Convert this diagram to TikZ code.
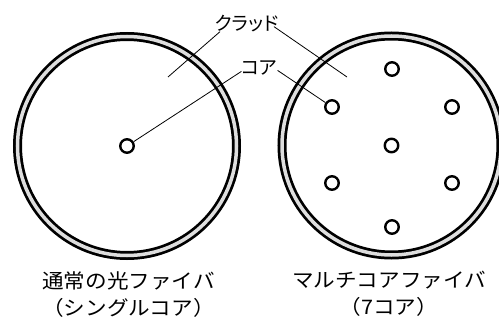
\documentclass[tikz,border=0pt]{standalone}
\usepackage{fontspec}
\newfontfamily\jpfont[FakeStretch=1.08]{Noto Sans CJK JP}
\newfontfamily\jptag[RawFeature=+palt]{Noto Sans CJK JP}
\usetikzlibrary{positioning}
\definecolor{RingGray}{HTML}{DEDEDE}

\begin{document}
\begin{tikzpicture}[
  x=1pt,y=-1pt,
  every node/.style={inner sep=0pt},
  ring/.style={draw=black,line width=9pt},
  ringband/.style={draw=RingGray,line width=3.5pt},
  core/.style={circle,draw=black,line width=2.4pt,minimum size=13.5pt,fill=white},
  lead/.style={draw=black,line width=0.8pt},
  tag/.style={font=\jptag\fontsize{19}{20}\selectfont,anchor=base},
  capt/.style={font=\jpfont\fontsize{20}{27}\selectfont,align=center,anchor=north}
]
\useasboundingbox (0,0) rectangle (499,321);
\coordinate (single) at (127,146);
\coordinate (multi) at (391.5,145.5);
% cladding rings
\foreach \c in {single,multi}{
  \draw[ring] (\c) circle (109.5);
  \draw[ringband] (\c) circle (109.5);
}
% cores
\node[core] (c0) at (single) {};
\node[core] (m0) at (multi) {};
\node[core] (m1) at (392,69) {};
\node[core] (m2) at (452,107) {};
\node[core] (m3) at (452,183) {};
\node[core] (m4) at (392,227) {};
\node[core] (m5) at (332,183) {};
\node[core] (m6) at (332,107) {};
% labels
\node[tag] (clad) at (247,31) {クラッド};
\node[tag] (corelbl) at (259.5,74.5) {コア};
\coordinate (cladL) at (168,77);
\coordinate (cladR) at (347,77);
\draw[lead] ([xshift=5pt,yshift=1pt]clad.south west) -- (cladL);
\draw[lead] ([xshift=-5pt,yshift=6pt]clad.south east) -- (cladR);
\draw[lead] ([yshift=4pt]corelbl.south west) -- (c0);
\draw[lead] ([yshift=5pt]corelbl.south east) -- (m6);
% captions
\node[capt] (normal) at (128.5,271) {通常の光ファイバ\\（シングルコア）};
\node[capt] (multicap) at (389,271) {マルチコアファイバ\\（7コア）};
\end{tikzpicture}
\end{document}
